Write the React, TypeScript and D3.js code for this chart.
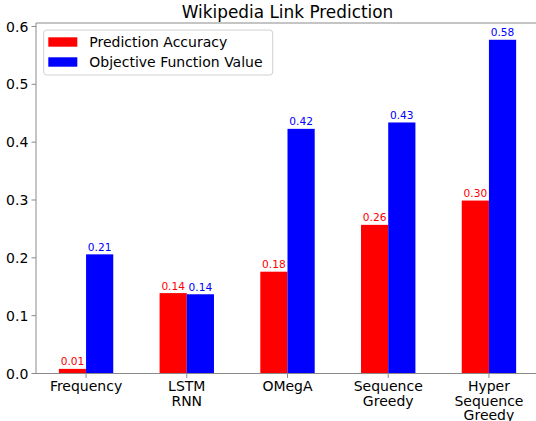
import React from "react";
import * as d3 from "d3";

const title = "Wikipedia Link Prediction";
const categories = ["Frequency", "LSTM\nRNN", "OMegA", "Sequence\nGreedy", "Hyper\nSequence\nGreedy"];
const accuracy = [0.008, 0.139, 0.176, 0.257, 0.299];
const objective = [0.206, 0.137, 0.423, 0.434, 0.577];
const seriesNames = ["Prediction Accuracy", "Objective Function Value"];
const seriesColors = ["#ff0000", "#0000ff"];
const yTicks = [0.0, 0.1, 0.2, 0.3, 0.4, 0.5, 0.6];

const W = 536;
const H = 421;
const FONT = "DejaVu Sans, sans-serif";
const barW = 0.27;

export default function App() {
  const x = d3.scaleLinear().domain([-0.497, 4.497]).range([36, 539]);
  const y = d3.scaleLinear().domain([0, 0.606]).range([373.5, 23]);
  const spine = "#8a8a8a";
  const series = [accuracy, objective];
  return (
    <svg width={W} height={H} style={{ position: "absolute", left: 0, top: 0, background: "#fff" }} fontFamily={FONT}>
      <text x={(x(-0.497) + x(4.497)) / 2} y={18.3} textAnchor="middle" fontSize={16.9} fill="#000">{title}</text>
      {series.map((vals, s) =>
        vals.map((v, i) => {
          const x0 = s === 0 ? x(i - barW) : x(i);
          const x1 = s === 0 ? x(i) : x(i + barW);
          return (
            <g key={`${s}-${i}`}>
              <rect x={x0} y={y(v)} width={x1 - x0} height={y(0) - y(v)} fill={seriesColors[s]} />
              <text x={(x0 + x1) / 2} y={y(v) - 3.5} textAnchor="middle" fontSize={10.6} fill={seriesColors[s]}>
                {v.toFixed(2)}
              </text>
            </g>
          );
        })
      )}
      {/* spines */}
      <line x1={x(-0.497)} x2={x(-0.497)} y1={y(0.606)} y2={y(0)} stroke={spine} strokeWidth={1} />
      <line x1={x(-0.497)} x2={x(4.497)} y1={y(0)} y2={y(0)} stroke={spine} strokeWidth={1} />
      <line x1={x(-0.497)} x2={x(4.497)} y1={y(0.606)} y2={y(0.606)} stroke={spine} strokeWidth={1} />
      <line x1={x(4.497)} x2={x(4.497)} y1={y(0.606)} y2={y(0)} stroke={spine} strokeWidth={1} />
      {yTicks.map((t) => (
        <g key={t}>
          <line x1={x(-0.497) - 4.5} x2={x(-0.497)} y1={y(t)} y2={y(t)} stroke={spine} />
          <text x={x(-0.497) - 7.7} y={y(t)} dy="0.36em" textAnchor="end" fontSize={14} fill="#000">{t.toFixed(1)}</text>
        </g>
      ))}
      {categories.map((c, i) => (
        <g key={c}>
          <line x1={x(i)} x2={x(i)} y1={y(0)} y2={y(0) + 4.5} stroke={spine} />
          {c.split("\n").map((ln, j) => (
            <text key={j} x={x(i)} y={391.3 + j * 14.4} textAnchor="middle" fontSize={14} fill="#000">{ln}</text>
          ))}
        </g>
      ))}
      {/* legend */}
      <rect x={43.7} y={30} width={229} height={45} rx={3} fill="#fff" fillOpacity={0.8} stroke="#d0d0d0" />
      {seriesNames.map((n, s) => (
        <g key={n}>
          <rect x={48.3} y={37.3 + s * 20} width={29} height={9.4} fill={seriesColors[s]} />
          <text x={89.3} y={46.8 + s * 20} fontSize={14} fill="#000">{n}</text>
        </g>
      ))}
    </svg>
  );
}
